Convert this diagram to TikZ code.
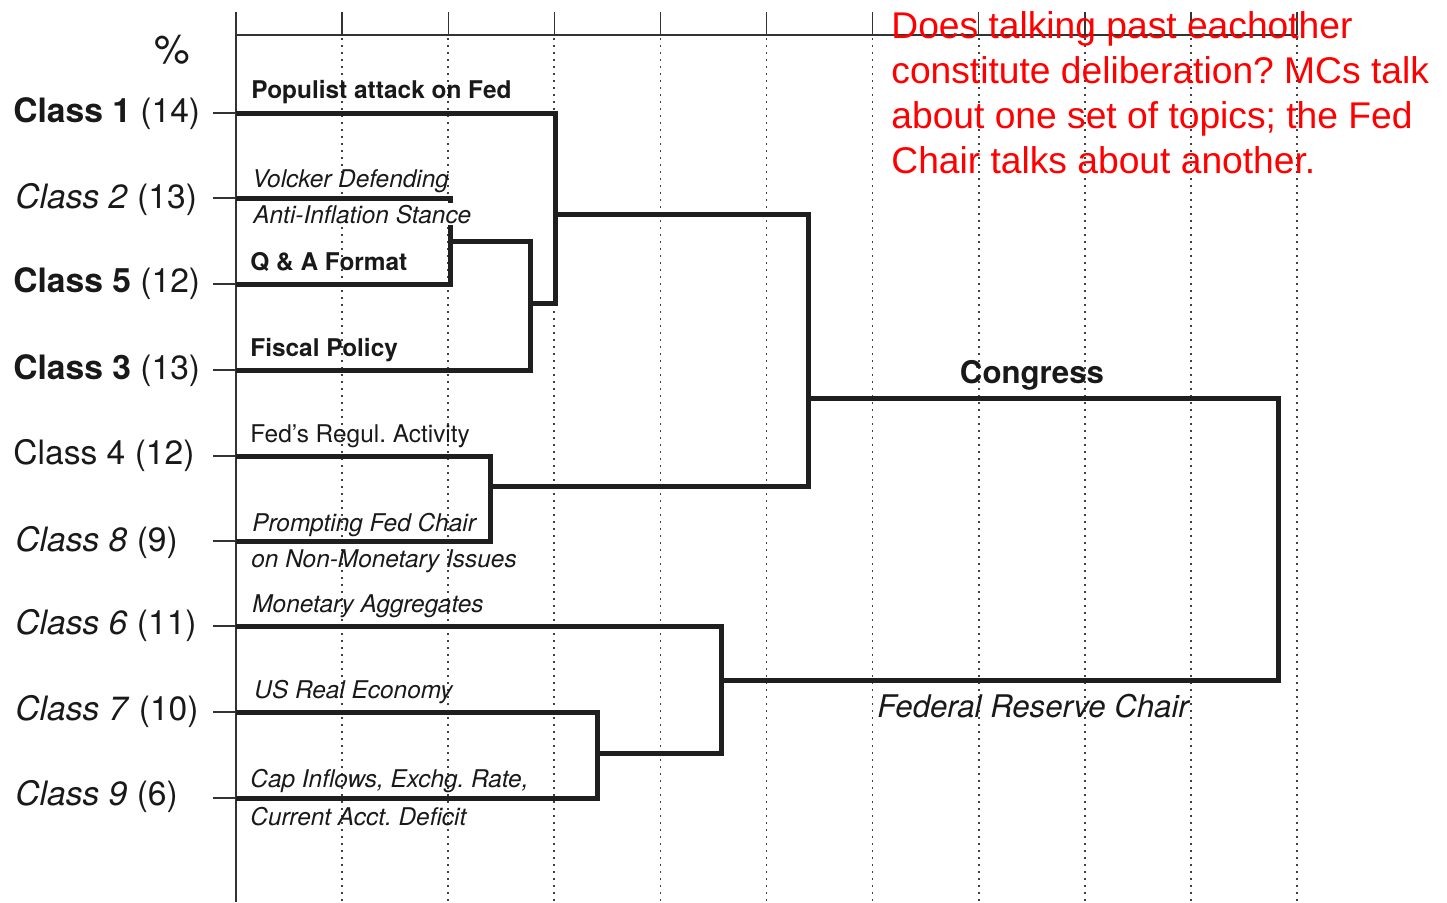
\documentclass[tikz,border=0pt]{standalone}
\usepackage{fontspec}
\setmainfont{TeX Gyre Heros}
\newfontfamily\arialfont{Liberation Sans}
\frenchspacing
\begin{document}
\frenchspacing
\begin{tikzpicture}[x=0.5pt,y=-0.5pt,
  dend/.style={line width=2.5pt, draw=black!88, line join=miter},
  axisline/.style={line width=0.7pt, draw=black!80},
  gridl/.style={line width=0.85pt, draw=black!75, dash pattern=on 0.9pt off 2.6pt},
  cls/.style={anchor=base west, inner sep=0pt, text=black!90, font=\fontsize{16.8}{18}\selectfont},
  topic/.style={anchor=base west, inner sep=0pt, text=black!90, font=\fontsize{12.2}{14}\selectfont},
  grp/.style={inner sep=0pt, text=black!90, font=\fontsize{15.6}{18}\selectfont},
  note/.style={anchor=north west, inner sep=0pt, text=red, align=left, font=\arialfont\fontsize{18.6}{22.5}\selectfont}]
\useasboundingbox (0,0) rectangle (1447,902);
% grid
\foreach \k in {1,...,10} {
  \draw[gridl] (236+106.1*\k,38) -- (236+106.1*\k,902);
}
% axes
\draw[axisline] (236,12) -- (236,902);
\draw[axisline] (236,35) -- (1297,35);
\foreach \k in {1,...,10} {
  \draw[axisline] (236+106.1*\k,12) -- (236+106.1*\k,35);
}
% leaves
\coordinate (L1) at (236,113);
\coordinate (L2) at (236,198);
\coordinate (L5) at (236,284);
\coordinate (L3) at (236,370);
\coordinate (L4) at (236,456);
\coordinate (L8) at (236,541);
\coordinate (L6) at (236,626);
\coordinate (L7) at (236,712);
\coordinate (L9) at (236,798);
\foreach \n/\y in {S1/113,S2/198,S5/284,S3/370,S4/456,S8/541,S6/626,S7/712,S9/798} {
  \coordinate (\n) at (213,\y);
}
\foreach \a/\b in {S1/L1,S2/L2,S5/L5,S3/L3,S4/L4,S8/L8,S6/L6,S7/L7,S9/L9} {
  \draw[axisline] (\a) -- (\b);
}
% merge points
\coordinate (ma) at (450,241);
\coordinate (mb) at (530,303);
\coordinate (mc) at (555,214);
\coordinate (me) at (490,486);
\coordinate (md) at (808,398);
\coordinate (mh) at (597,753);
\coordinate (mg) at (721,680);
\coordinate (mf) at (1278,540);
\draw[dend] (L2) -| (ma) |- (L5);
\draw[dend] (ma) -| (mb) |- (L3);
\draw[dend] (L1) -| (mc) |- (mb);
\draw[dend] (L4) -| (me) |- (L8);
\draw[dend] (mc) -| (md) |- (me);
\draw[dend] (L7) -| (mh) |- (L9);
\draw[dend] (L6) -| (mg) |- (mh);
\draw[dend] (md) -| (mf) |- (mg);
% class labels
\node[cls, font=\fontsize{20}{22}\selectfont] (pct) at (154,63) {\%};
\node[cls] (c1) at (13,122) {\textbf{Class 1} (14)};
\node[cls] (c2) at (15,208) {\textit{Class 2} (13)};
\node[cls] (c5) at (13,292) {\textbf{Class 5} (12)};
\node[cls] (c3) at (13,379) {\textbf{Class 3} (13)};
\node[cls] (c4) at (13,464) {Class 4 (12)};
\node[cls] (c8) at (15,551) {\textit{Class 8} (9)};
\node[cls] (c6) at (15,634) {\textit{Class 6} (11)};
\node[cls] (c7) at (15,720) {\textit{Class 7} (10)};
\node[cls] (c9) at (15,805) {\textit{Class 9} (6)};
% topic labels
\node[topic] (t1) at (251,98) {\textbf{Populist attack on Fed}};
\node[topic] (t2a) at (252,187) {\textit{Volcker Defending}};
\node[topic, fill=white, inner sep=1pt] (t2b) at (251,223) {\textit{Anti-Inflation Stance}};
\node[topic] (t5) at (250,270) {\textbf{Q \& A Format}};
\node[topic] (t3) at (250,356) {\textbf{Fiscal Policy}};
\node[topic] (t4) at (250,442) {Fed’s Regul. Activity};
\node[topic] (t8a) at (252,531) {\textit{Prompting Fed Chair}};
\node[topic] (t8b) at (251,567) {\textit{on Non-Monetary Issues}};
\node[topic] (t6) at (252,612) {\textit{Monetary Aggregates}};
\node[topic] (t7) at (254,698) {\textit{US Real Economy}};
\node[topic] (t9a) at (250,787) {\textit{Cap Inflows, Exchg. Rate,}};
\node[topic] (t9b) at (250,825) {\textit{Current Acct. Deficit}};
% group labels
\node[grp, anchor=base] (cong) at (1032,383) {\textbf{Congress}};
\node[grp, anchor=base west] (fed) at (877,717) {\textit{Federal Reserve Chair}};
% note
\node[note] (q) at (891,11.5) {Does talking past eachother\\constitute deliberation? MCs talk\\about one set of topics; the Fed\\Chair talks about another.};
\end{tikzpicture}
\end{document}
